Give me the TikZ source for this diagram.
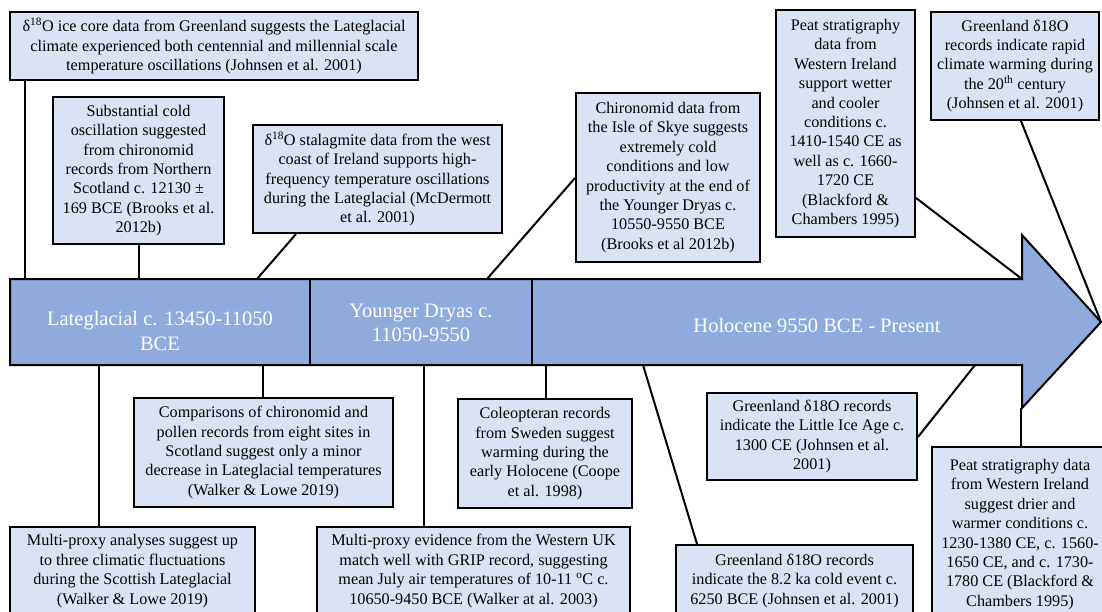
\documentclass[tikz,border=0pt]{standalone}
\usepackage{fontspec}
\setmainfont{Liberation Serif}
\usetikzlibrary{calc}
\definecolor{bandblue}{HTML}{8FAADC}
\definecolor{boxblue}{HTML}{DAE3F3}
\tikzset{
  note/.style={draw=black, line width=2pt, fill=boxblue, align=center,
    font=\fontsize{16.2}{19.4}\selectfont, inner sep=0pt},
  link/.style={draw=black, line width=2pt},
  era/.style={text=white, align=center, font=\fontsize{20.5}{24.5}\selectfont, inner sep=0pt},
  bandline/.style={draw=black, line width=2pt}
}
\begin{document}
\begin{tikzpicture}[x=1pt,y=-1pt]
\path[use as bounding box, fill=white] (0,0) rectangle (1102,611);
\clip (0,0) rectangle (1102,611);

% timeline arrow
\draw[bandline, fill=bandblue, line join=miter] (10,279) -- (1022,279) -- (1022,235) -- (1101,322)
  -- (1022,408) -- (1022,365) -- (10,365) -- cycle;
\coordinate (d1t) at (310,279); \coordinate (d1b) at (310,365);
\coordinate (d2t) at (532,279); \coordinate (d2b) at (532,365);
\draw[bandline] (d1t) -- (d1b);
\draw[bandline] (d2t) -- (d2b);

\node[era] (lg) at (160,331) {Lateglacial c. 13450-11050\\BCE};
\node[era] (yd) at (421,323) {Younger Dryas c.\\11050-9550};
\node[era] (ho) at (817,325) {Holocene 9550 BCE - Present};

% attachment points on the arrow
\coordinate (bA) at (25,279);
\coordinate (bB) at (138.5,279);
\coordinate (bC) at (257,279);
\coordinate (bD) at (487,279);
\coordinate (bE) at (1022,279);
\coordinate (bF) at (1101,322);
\coordinate (bK) at (99,365);
\coordinate (bG) at (263,365);
\coordinate (bL) at (424,365);
\coordinate (bH) at (546,365);
\coordinate (bM) at (643,365);
\coordinate (bI) at (975,365);
\coordinate (bJ) at (1021,408);

% top notes
\node[note, minimum width=408, minimum height=68] (A) at (214,46)
  {δ\textsuperscript{18}O ice core data from Greenland suggests the Lateglacial\\climate experienced both centennial and millennial scale\\temperature oscillations (Johnsen et al. 2001)};
\node[note, minimum width=171, minimum height=147] (B) at (138.5,170.5)
  {Substantial cold\\oscillation suggested\\from chironomid\\records from Northern\\Scotland c. 12130 ±\\169 BCE (Brooks et al.\\2012b)};
\node[note, minimum width=249, minimum height=108] (C) at (377.5,179)
  {δ\textsuperscript{18}O stalagmite data from the west\\coast of Ireland supports high-\\frequency temperature oscillations\\during the Lateglacial (McDermott\\et al. 2001)};
\node[note, minimum width=184, minimum height=169] (D) at (668,177.5)
  {Chironomid data from\\the Isle of Skye suggests\\extremely cold\\conditions and low\\productivity at the end of\\the Younger Dryas c.\\10550-9550 BCE\\(Brooks et al 2012b)};
\node[note, minimum width=139, minimum height=227] (E) at (845.5,123.5)
  {Peat stratigraphy\\data from\\Western Ireland\\support wetter\\and cooler\\conditions c.\\1410-1540 CE as\\well as c. 1660-\\1720 CE\\(Blackford \&\\Chambers 1995)};
\node[note, minimum width=168, minimum height=108] (F) at (1015,66)
  {Greenland δ18O\\records indicate rapid\\climate warming during\\the 20\textsuperscript{th} century\\(Johnsen et al. 2001)};

% bottom notes
\node[note, minimum width=259, minimum height=109] (G) at (263.5,452.5)
  {Comparisons of chironomid and\\pollen records from eight sites in\\Scotland suggest only a minor\\decrease in Lateglacial temperatures\\(Walker \& Lowe 2019)};
\node[note, minimum width=174, minimum height=109] (H) at (545,453.5)
  {Coleopteran records\\from Sweden suggest\\warming during the\\early Holocene (Coope\\et al. 1998)};
\node[note, minimum width=210, minimum height=87] (I) at (812,436.5)
  {Greenland δ18O records\\indicate the Little Ice Age c.\\1300 CE (Johnsen et al.\\2001)};
\node[note, minimum width=176, minimum height=175] (J) at (1020,534.5)
  {Peat stratigraphy data\\from Western Ireland\\suggest drier and\\warmer conditions c.\\1230-1380 CE, c. 1560-\\1650 CE, and c. 1730-\\1780 CE (Blackford \&\\Chambers 1995)};
\node[note, minimum width=245, minimum height=88] (K) at (132.5,571)
  {Multi-proxy analyses suggest up\\to three climatic fluctuations\\during the Scottish Lateglacial\\(Walker \& Lowe 2019)};
\node[note, minimum width=313, minimum height=88] (L) at (473.5,571)
  {Multi-proxy evidence from the Western UK\\match well with GRIP record, suggesting\\mean July air temperatures of 10-11 \textsuperscript{o}C c.\\10650-9450 BCE (Walker at al. 2003)};
\node[note, minimum width=237, minimum height=72] (M) at (794.5,581)
  {Greenland δ18O records\\indicate the 8.2 ka cold event c.\\6250 BCE (Johnsen et al. 2001)};

% connectors
\draw[link] (bA |- A.south) -- (bA);
\draw[link] (B.south) -- (bB);
\draw[link] ($(C.south west)+(44,0)$) -- (bC);
\draw[link] ($(D.west)+(0,0.5)$) -- (bD);
\draw[link] ($(E.south east)+(0,-40)$) -- (bE);
\draw[link] ($(F.south)+(6,0)$) -- (bF);
\draw[link] (bK |- K.north) -- (bK);
\draw[link] (bG |- G.north) -- (bG);
\draw[link] (bL |- L.north) -- (bL);
\draw[link] (bH |- H.north) -- (bH);
\draw[link] ($(M.north west)+(22,0)$) -- (bM);
\draw[link] ($(I.south east)+(0,-44)$) -- (bI);
\draw[link] (bJ |- J.north) -- (bJ);
\end{tikzpicture}
\end{document}
